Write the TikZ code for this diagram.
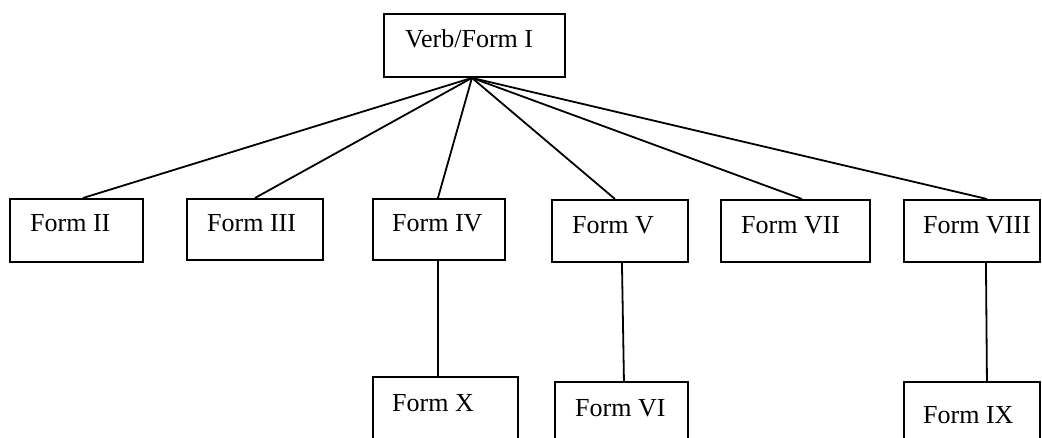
\documentclass[tikz,border=0pt]{standalone}
\usepackage{fontspec}
\setmainfont{Liberation Serif}
\begin{document}
\begin{tikzpicture}[x=1pt,y=-1pt,
  box/.style={draw, line width=1.9pt, inner sep=0pt, anchor=north west},
  lbl/.style={inner sep=0pt, anchor=base west, font=\fontsize{26}{30}\selectfont},
  link/.style={line width=1.8pt}]
\useasboundingbox (0,0) rectangle (1042,438);
\clip (0,0) rectangle (1042,438);
% boxes: top-left corner, width and height
\node[box, minimum width=181, minimum height=63] (v)   at (383,13)  {};
\node[box, minimum width=133, minimum height=63] (f2)  at (9,198)   {};
\node[box, minimum width=136, minimum height=61] (f3)  at (186,198) {};
\node[box, minimum width=132, minimum height=61] (f4)  at (372,198) {};
\node[box, minimum width=136, minimum height=62] (f5)  at (551,199) {};
\node[box, minimum width=149, minimum height=62] (f7)  at (720,199) {};
\node[box, minimum width=136, minimum height=62] (f8)  at (903,199) {};
\node[box, minimum width=145, minimum height=94] (f10) at (372,376) {};
\node[box, minimum width=133, minimum height=89] (f6)  at (554,381) {};
\node[box, minimum width=136, minimum height=89] (f9)  at (903,381) {};
% labels
\node[lbl] (tv)  at (405,48)  {Verb/Form I};
\node[lbl] (t2)  at (30,232)  {Form II};
\node[lbl] (t3)  at (207,232) {Form III};
\node[lbl] (t4)  at (392,232) {Form IV};
\node[lbl] (t5)  at (572,234) {Form V};
\node[lbl] (t7)  at (741,234) {Form VII};
\node[lbl] (t8)  at (923,234) {Form VIII};
\node[lbl] (t10) at (392,411) {Form X};
\node[lbl] (t6)  at (575,416) {Form VI};
\node[lbl] (t9)  at (923,424) {Form IX};
% connectors
\coordinate (apex) at ([xshift=-2.5pt]v.south);
\draw[link] (apex) -- ([xshift=6.5pt]f2.north);
\draw[link] (apex) -- (f3.north);
\draw[link] (apex) -- ([xshift=-1pt]f4.north);
\draw[link] (apex) -- ([xshift=-5pt]f5.north);
\draw[link] (apex) -- ([xshift=6.5pt]f7.north);
\draw[link] (apex) -- ([xshift=15pt]f8.north);
\draw[link] ([xshift=-1pt]f4.south) -- ([xshift=-7.5pt]f10.north);
\draw[link] ([xshift=2pt]f5.south) -- ([xshift=2.5pt]f6.north);
\draw[link] ([xshift=14pt]f8.south) -- ([xshift=15pt]f9.north);
\end{tikzpicture}
\end{document}
